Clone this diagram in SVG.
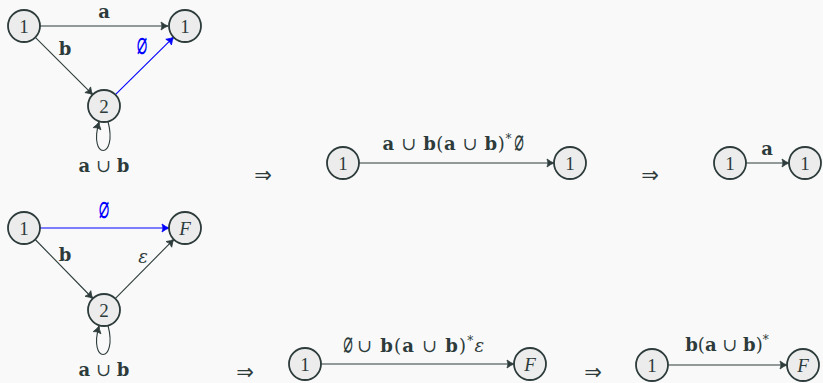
<svg xmlns="http://www.w3.org/2000/svg" width="823" height="383" viewBox="0 0 823 383">
<defs>
<marker id="ah" markerUnits="userSpaceOnUse" markerWidth="12" markerHeight="12" refX="0" refY="0" viewBox="-8 -6 10 12" orient="auto" overflow="visible">
<path d="M-7,-4 Q-3,-1 0,0 Q-3,1 -7,4 Q-5,0 -7,-4 Z" fill="#2d3b3b" stroke="#2d3b3b" stroke-width="0.8" stroke-linejoin="round"/>
</marker>
<marker id="ahb" markerUnits="userSpaceOnUse" markerWidth="12" markerHeight="12" refX="0" refY="0" viewBox="-8 -6 10 12" orient="auto" overflow="visible">
<path d="M-7,-4 Q-3,-1 0,0 Q-3,1 -7,4 Q-5,0 -7,-4 Z" fill="#0000ff" stroke="#0000ff" stroke-width="0.8" stroke-linejoin="round"/>
</marker>
<style>
.n circle{fill:#ececec;stroke:#2d3b3b;stroke-width:1.8}
.n text{font-family:"Liberation Serif","DejaVu Serif",serif;font-size:19px;fill:#2d3b3b;text-anchor:middle;dominant-baseline:central}
.e{fill:none;stroke:#2d3b3b;stroke-width:1.1;marker-end:url(#ah)}
.eb{fill:none;stroke:#0000ff;stroke-width:1.1;marker-end:url(#ahb)}
.l{font-family:"DejaVu Serif","Liberation Serif",serif;font-size:18px;fill:#2d3b3b;text-anchor:middle}
.le{text-anchor:end;letter-spacing:0.6px}
.ls{text-anchor:start;letter-spacing:1.2px}
.es{font-family:"DejaVu Sans Mono",monospace;font-size:32px;fill:#2d3b3b;text-anchor:middle}
.blue{fill:#0000ff}
.b{font-weight:bold}
.it{font-style:italic}
.imp{font-family:"DejaVu Sans","Liberation Sans",sans-serif;font-size:21px;fill:#2d3b3b;text-anchor:middle}
</style>
</defs>
<rect width="823" height="383" fill="#f9f9f9"/>
<g id="connectors">
<path class="e" d="M40,26 L168,26"/>
<path class="e" d="M35.3,37.3 L92.7,94.7"/>
<path class="eb" d="M115.4,94.7 L173.6,37.2"/>
<path class="e" d="M108,121.5 C118,160 88,160 99,122"/>
<path class="eb" d="M40,228 L169,228"/>
<path class="e" d="M35.2,239.5 L92.8,298.5"/>
<path class="e" d="M115.2,298.6 L173.8,239.4"/>
<path class="e" d="M108,325.5 C118,364 88,364 99,326"/>
<path class="e" d="M359,163 L554,163"/>
<path class="e" d="M746,163 L789,163"/>
<path class="e" d="M321,364 L514,364"/>
<path class="e" d="M668,365 L787,365"/>
</g>
<g id="labels">
<text class="l b" x="104" y="18">a</text>
<text class="l b" x="65" y="55">b</text>
<text class="es blue" transform="translate(142,56) scale(0.55,1)">∅</text>
<text class="l" x="104" y="172"><tspan class="b">a</tspan> ∪ <tspan class="b">b</tspan></text>
<text class="es blue" transform="translate(104,220) scale(0.55,1)">∅</text>
<text class="l b" x="65" y="261">b</text>
<text class="l it" x="143" y="263">ε</text>
<text class="l" x="104" y="376"><tspan class="b">a</tspan> ∪ <tspan class="b">b</tspan></text>
<text class="l le" x="512" y="150"><tspan class="b">a</tspan> ∪ <tspan class="b">b</tspan>(<tspan class="b">a</tspan> ∪ <tspan class="b">b</tspan>)<tspan font-size="12" dy="-7">*</tspan></text>
<text class="es" transform="translate(519,152) scale(0.5,0.9)">∅</text>
<text class="l b" x="767" y="155">a</text>
<text class="es" transform="translate(348,354) scale(0.5,0.9)">∅</text>
<text class="l ls" x="357" y="352">∪ <tspan class="b">b</tspan>(<tspan class="b">a</tspan> ∪ <tspan class="b">b</tspan>)<tspan font-size="12" dy="-7">*</tspan><tspan class="it" dy="7">ε</tspan></text>
<text class="l" x="727" y="351"><tspan class="b">b</tspan>(<tspan class="b">a</tspan> ∪ <tspan class="b">b</tspan>)<tspan font-size="12" dy="-7">*</tspan></text>
<text class="imp" x="263" y="182">⇒</text>
<text class="imp" x="650" y="182">⇒</text>
<text class="imp" x="245" y="379">⇒</text>
<text class="imp" x="593" y="379">⇒</text>
</g>
<g id="n1" class="n"><circle cx="24" cy="26" r="16"/><text x="24" y="26">1</text></g>
<g id="n2" class="n"><circle cx="185" cy="26" r="16"/><text x="185" y="26">1</text></g>
<g id="n3" class="n"><circle cx="104" cy="106" r="16"/><text x="104" y="106">2</text></g>
<g id="n4" class="n"><circle cx="24" cy="228" r="16"/><text x="24" y="228">1</text></g>
<g id="n5" class="n"><circle cx="185" cy="228" r="16"/><text x="185" y="228" font-style="italic">F</text></g>
<g id="n6" class="n"><circle cx="104" cy="310" r="16"/><text x="104" y="310">2</text></g>
<g id="n7" class="n"><circle cx="343" cy="163" r="16"/><text x="343" y="163">1</text></g>
<g id="n8" class="n"><circle cx="570" cy="163" r="16"/><text x="570" y="163">1</text></g>
<g id="n9" class="n"><circle cx="730" cy="163" r="16"/><text x="730" y="163">1</text></g>
<g id="n10" class="n"><circle cx="805" cy="163" r="16"/><text x="805" y="163">1</text></g>
<g id="n11" class="n"><circle cx="305" cy="364" r="16"/><text x="305" y="364">1</text></g>
<g id="n12" class="n"><circle cx="530" cy="364" r="16"/><text x="530" y="364" font-style="italic">F</text></g>
<g id="n13" class="n"><circle cx="652" cy="365" r="16"/><text x="652" y="365">1</text></g>
<g id="n14" class="n"><circle cx="803" cy="365" r="16"/><text x="803" y="365" font-style="italic">F</text></g>
</svg>
